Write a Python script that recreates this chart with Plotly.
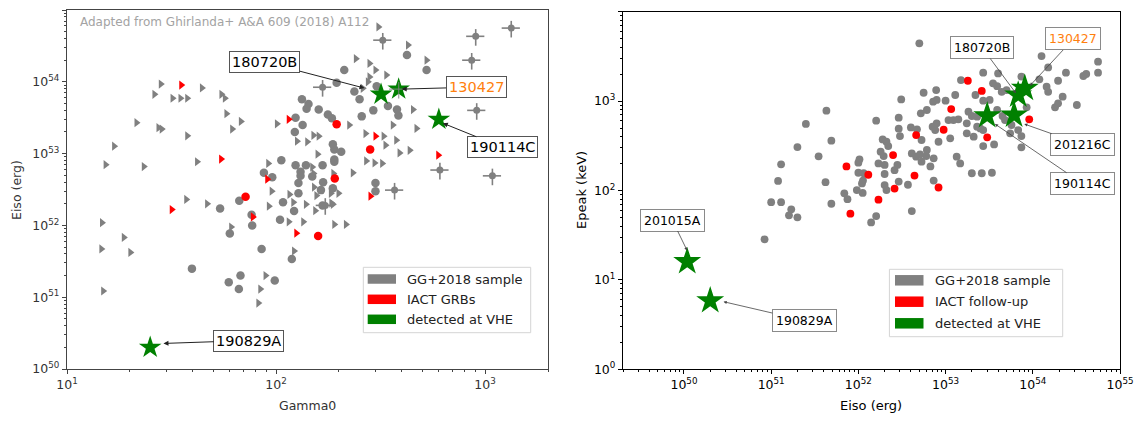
import numpy as np
import plotly.graph_objects as go

# page body has an 8px margin: draw a 1137x413 figure so the page is 1145x421
OFF = 8
FW, FH = 1145 - OFF, 421 - OFF
FONT = "DejaVu Sans"
GRAY, RED, GREEN, ORANGE = "#808080", "#ff0000", "#008000", "#ff7f0e"


def X(px):
    return (px - OFF) / FW


def Y(py):
    return 1 - (py - OFF) / FH


# ---------------- LEFT PANEL DATA (Gamma0, Eiso [erg]) ----------------
# GG+2018 sample, measured Gamma0 (circles)
gc_gamma = [423, 525, 212, 195, 237, 251, 303, 343, 379, 385, 292, 257,
            133, 143, 140, 160, 177, 185, 134, 124, 123, 187,
            190, 205, 167, 190, 190, 139, 131, 149, 168, 187,
            106, 124, 131, 87.5, 95.9, 299, 299, 164, 167, 128,
            108, 128, 122, 104.5, 54, 66.7, 76.4, 76.9, 60.1, 85.3,
            119, 39.6, 59.4, 67.6, 66.4, 98.6]
gc_eiso = [2.36e54, 1.46e54, 1.46e54, 9.7e53, 7.3e53, 5.7e53, 8.7e53, 4.6e53, 4.1e53, 3.4e53, 4.0e53, 3.3e53,
           5.7e53, 4.9e53, 4.2e53, 4.1e53, 3.5e53, 3.1e53, 2.5e53, 3.15e53, 2.0e53, 1.35e53,
           1.14e53, 1.06e53, 6.9e52, 7.7e52, 8.3e52, 6.9e52, 5.6e52, 4.8e52, 4.0e52, 3.3e52,
           8.1e52, 6.9e52, 4.9e52, 5.4e52, 4.7e52, 3.9e52, 3.0e52, 3.1e52, 1.9e52, 3.9e52,
           2.1e52, 2.8e52, 1.59e52, 1.2e52, 1.72e52, 2.2e52, 1.41e52, 1.0e52, 7.7e51, 4.7e51,
           3.4e51, 2.5e51, 1.61e51, 2.0e51, 1.3e51, 1.71e51]

# GG+2018 sample, lower limits on Gamma0 (right triangles)
gt_gamma = [28.1, 26.2, 32.0, 34.9, 37.6, 44.2, 54.8, 56.9, 21.5, 27.4, 28.4, 37.6, 57.9, 67.9, 61.7,
            16.8, 15.3, 23.3, 41.9, 101, 91.8, 126,
            14.7, 18.7, 14.6, 20.1, 14.9, 37.2, 46.8, 61.0, 92.4, 95.3, 116, 121, 139, 115, 135,
            122, 89.1, 84.1, 82.3,
            190, 216, 156, 183, 199, 154, 187,
            309, 428, 525, 241, 280, 299, 337, 280, 275, 260, 452, 362, 470, 268, 376, 334, 436,
            390, 270, 296, 322, 233, 149, 160, 158,
            141, 151, 188, 151, 152, 184, 224, 327]
gt_eiso = [9.3e53, 6.7e53, 5.9e53, 5.9e53, 5.9e53, 8.2e53, 6.7e53, 5.9e53, 2.7e53, 2.3e53, 2.2e53, 1.77e53,
           3.6e53, 2.8e53, 2.2e53, 1.27e53, 7.0e52, 6.6e52, 7.7e52, 2.6e53, 7.3e52, 1.49e53,
           1.09e52, 6.8e51, 4.7e51, 4.2e51, 1.22e51, 2.3e52, 2.0e52, 9.5e51, 1.85e52, 3.0e52, 2.7e52,
           2.1e52, 1.97e52, 1.12e52, 1.12e52, 4.4e51, 2.0e51, 1.3e51, 8.3e50,
           1.03e52, 1.03e52, 2.6e52, 2.8e52, 2.8e52, 1.6e52, 1.97e52,
           5.8e54, 3.25e54, 2.0e54, 2.1e54, 1.8e54, 1.46e54, 1.24e54, 1.17e54, 1.0e54, 8.1e53, 4.1e53,
           2.5e53, 2.24e53, 1.9e53, 1.54e53, 1.31e53, 1.11e53, 1.02e53, 7.9e52, 7.4e52, 7.3e52, 5.4e52,
           6.5e52, 1.75e53, 9.8e52,
           1.46e53, 1.8e53, 5.3e52, 5.3e52, 3.4e52, 2.05e52, 2.5e53, 1.75e53]

# GG+2018 sample with error bars
eb_gamma = [324, 902, 1334, 863, 912, 608, 1084, 167, 369, 172]
eb_eiso = [3.8e54, 4.3e54, 5.6e54, 2.0e54, 4.0e53, 5.9e52, 4.9e52, 8.4e53, 3.1e52, 1.9e52]

# IACT GRBs
rt_gamma = [35.2, 54.6, 115, 90.8, 31.7, 77.5, 125, 283, 299, 597]
rt_eiso = [9.0e53, 8.4e52, 3.0e53, 4.4e52, 1.66e52, 1.31e52, 7.8e51, 2.55e52, 1.75e53, 9.5e52]
rc_gamma = [71.5, 159, 195, 282, 191]
rc_eiso = [2.5e52, 7.1e51, 2.57e53, 1.14e53, 4.5e52]

# detected at VHE
vhe_left_names = ["180720B", "130427", "190114C", "190829A"]
vhe_left_gamma = [318, 386, 601, 25]
vhe_left_eiso = [6.7e53, 7.9e53, 3.0e53, 2.0e50]

# ---------------- RIGHT PANEL DATA (Eiso [erg], Epeak [keV]) ----------------
gg_eiso = [5.0e52, 5.6e52, 7.8e52, 3.1e52, 7.2e52, 7.9e52, 6.1e52, 5.2e52, 4.3e51, 2.5e51,
           1.6e52, 2.9e52, 2.9e52, 3.0e52, 4.0e52, 4.7e52, 5.3e52, 7.1e52, 4.9e51, 2.0e51,
           3.5e51, 1.3e51, 1.2e51, 4.2e51, 1.0e51, 1.3e51, 1.7e51, 1.6e51, 2.0e51, 8.4e50,
           4.9e51, 1.03e52, 1.0e52, 1.0e52, 1.15e52, 1.13e52, 1.1e52, 6.9e51, 7.5e51, 9.6e51,
           1.12e52, 1.9e52, 2.1e52, 2.2e52, 1.8e52, 1.95e52, 1.7e52, 2.0e52, 2.0e52, 2.8e52,
           2.6e52, 2.0e52, 2.1e52, 2.9e52, 3.7e52, 4.1e52, 1.6e52, 1.4e52, 4.1e52, 4.6e52,
           5.1e52, 6.1e52, 5.3e52, 6.0e52, 7.3e52, 6.7e52, 7.3e52,
           1.26e54, 1.5e54, 2.4e54, 5.6e54, 5.6e54, 4.1e54, 3.8e54, 2.7e53, 4.0e53, 7.4e53,
           1.19e54, 1.95e54, 1.5e53, 1.29e53, 3.5e53, 3.9e53, 4.4e53, 5.0e53, 1.44e54, 1.5e54,
           2.2e54, 1.95e54, 1.8e54, 3.2e54, 1.0e53, 2.7e53, 3.2e53, 2.2e53, 3.9e53, 4.5e53,
           4.8e53, 8.5e53, 1.83e53, 2.0e53, 2.3e53, 1.08e53, 1.23e53, 1.4e53, 7.9e52, 7.6e52,
           1.75e53, 2.3e53, 2.5e53, 2.7e53, 1.13e53, 8.3e52, 1.75e53, 2.1e53, 2.7e53, 3.6e53,
           5.7e53, 5.5e53, 6.8e53, 7.4e53, 7.4e53, 1.34e53, 1.47e53, 2.0e53, 2.6e53, 3.4e53]
gg_epeak = [4430, 1240, 1330, 1045, 985, 1030, 795, 729, 781, 555,
            604, 652, 491, 406, 508, 483, 367, 517, 361, 306,
            241, 196, 128, 124, 74, 74, 61.5, 52.7, 50.1, 28.4,
            71.1, 223, 205, 158, 156, 129, 120, 93, 80, 101,
            94, 373, 351, 314, 272, 243, 201, 193, 153, 193,
            169, 115, 101, 126, 116, 58.9, 51.8, 44.0, 260, 239,
            254, 284, 210, 243, 229, 186, 129,
            3190, 2380, 2080, 2760, 2080, 2010, 1910, 2080, 2040, 1880,
            1750, 1690, 1720, 1170, 1580, 1470, 1270, 1330, 1450, 1270,
            1120, 944, 851, 904, 1010, 1010, 1030, 1170, 795, 681,
            614, 851, 762, 681, 670, 614, 614, 625, 564, 474,
            564, 517, 495, 474, 383, 351, 436, 400, 314, 328,
            540, 436, 474, 406, 304, 239, 201, 156, 156, 158]

iact_eiso = [4.6e52, 2.5e52, 7.3e51, 1.3e52, 4.4e52, 2.6e52, 1.7e52, 8.1e51, 8.3e52,
             1.8e53, 2.6e53, 1.16e53, 9.5e52, 3.0e53, 9.1e53]
iact_epeak = [417, 249, 186, 150, 147, 105, 79, 55, 108,
              1690, 1300, 815, 478, 393, 625]

vhe_right_names = ["190114C", "201216C", "180720B", "130427", "201015A", "190829A"]
vhe_right_eiso = [3.0e53, 6.1e53, 6.8e53, 8.1e53, 1.09e50, 2.0e50]
vhe_right_epeak = [687, 699, 1170, 1390, 16, 5.85]

# ---------------- label placement (log10 units: label centre, arrow tip) ----------------
left_labels = {
    "180720B": ((1.947, 54.275), (2.423, 53.912), "black"),
    "130427": ((2.957, 53.926), (2.601, 53.898), ORANGE),
    "190114C": ((3.082, 53.089), (2.798, 53.424), "black"),
    "190829A": ((1.870, 50.397), (1.4615, 50.356), "black"),
}
right_labels = {
    "180720B": ((53.418, 3.600), (53.807, 3.087), "black"),
    "130427": ((54.465, 3.695), (53.967, 3.172), ORANGE),
    "201216C": ((54.573, 2.512), (53.902, 2.744), "black"),
    "190114C": ((54.573, 2.076), (53.566, 2.744), "black"),
    "201015A": ((49.866, 1.670), (50.037, 1.327), "black"),
    "190829A": ((51.381, 0.546), (50.454, 0.756), "black"),
}

fig = go.Figure()


def sc(x, y, xa, ya, **m):
    return go.Scatter(x=x, y=y, mode="markers", xaxis=xa, yaxis=ya,
                      showlegend=False, hoverinfo="skip", marker=m)


# left panel traces
fig.add_trace(sc(gt_gamma, gt_eiso, "x", "y", symbol="triangle-right", size=8, color=GRAY))
fig.add_trace(sc(gc_gamma, gc_eiso, "x", "y", symbol="circle", size=8.5, color=GRAY))
fig.add_trace(go.Scatter(x=eb_gamma, y=eb_eiso, mode="markers", xaxis="x", yaxis="y",
                         showlegend=False, hoverinfo="skip",
                         marker=dict(size=7, color=GRAY),
                         error_x=dict(type="percent", value=10, color=GRAY, thickness=1.6, width=0),
                         error_y=dict(type="percent", value=26, color=GRAY, thickness=1.6, width=0)))
fig.add_trace(sc(rt_gamma, rt_eiso, "x", "y", symbol="triangle-right", size=8, color=RED))
fig.add_trace(sc(rc_gamma, rc_eiso, "x", "y", symbol="circle", size=8.5, color=RED))
fig.add_trace(sc(vhe_left_gamma, vhe_left_eiso, "x", "y", symbol="star", size=17, color=GREEN,
                 line=dict(width=0)))
i130 = vhe_left_names.index("130427")
fig.add_trace(go.Scatter(x=[vhe_left_gamma[i130]], y=[vhe_left_eiso[i130]], mode="markers",
                         xaxis="x", yaxis="y", showlegend=False, hoverinfo="skip",
                         marker=dict(size=0.1, color="rgba(128,128,128,0.6)"),
                         error_x=dict(type="percent", value=10, color="rgba(128,128,128,0.7)", thickness=1.4, width=0),
                         error_y=dict(type="percent", value=26, color="rgba(128,128,128,0.7)", thickness=1.4, width=0)))

# right panel traces
fig.add_trace(sc(gg_eiso, gg_epeak, "x2", "y2", symbol="circle", size=7.8, color=GRAY))
fig.add_trace(sc(iact_eiso, iact_epeak, "x2", "y2", symbol="circle", size=7.8, color=RED))
fig.add_trace(sc(vhe_right_eiso, vhe_right_epeak, "x2", "y2", symbol="star", size=21, color=GREEN,
                 line=dict(width=0)))


def minor_vals(lo, hi):
    return [m * 10.0 ** e for e in range(lo, hi) for m in range(2, 10)]


def sup(e):
    return "10<sup>%d</sup>" % e


def axis(dom, rng, anchor, majors, minors, col, tcol):
    return dict(type="log", domain=dom, range=rng, anchor=anchor, automargin=False,
                showline=True, linecolor=col, linewidth=1.2, mirror=True,
                ticks="outside", ticklen=4, tickwidth=1, tickcolor=col,
                tickvals=[10.0 ** e for e in majors], ticktext=[sup(e) for e in majors],
                tickfont=dict(family=FONT, size=12.5, color=tcol),
                showgrid=False, zeroline=False,
                minor=dict(ticks="outside", ticklen=2, tickwidth=0.8, tickcolor=col,
                           tickvals=minors, showgrid=False))


LC = "#444444"
fig.update_layout(
    template="none",
    width=FW, height=FH, margin=dict(l=0, r=0, t=0, b=0, autoexpand=False),
    paper_bgcolor="white", plot_bgcolor="white", showlegend=False,
    xaxis=axis([X(67), X(548)], [1, np.log10(2000)], "y", [1, 2, 3], minor_vals(1, 4), LC, "#333333"),
    yaxis=axis([Y(369), Y(10)], [50, 55], "x", [50, 51, 52, 53, 54, 55], minor_vals(50, 55), LC, "#333333"),
    xaxis2=axis([X(623), X(1120)], [np.log10(2e49), 55], "y2", [50, 51, 52, 53, 54, 55], minor_vals(49, 55), "black", "black"),
    yaxis2=axis([Y(369.3), Y(11.7)], [0, 4], "x2", [0, 1, 2, 3, 4], minor_vals(0, 4), "black", "black"),
)

ann = []
shapes = []


def paper_text(x, y, text, size=13, color="black", xanchor="center", angle=0):
    ann.append(dict(xref="paper", yref="paper", x=X(x), y=Y(y), text=text, showarrow=False,
                    xanchor=xanchor, yanchor="middle", textangle=angle,
                    font=dict(family=FONT, size=size, color=color)))


# credits and axis titles
paper_text(78, 22, "Adapted from Ghirlanda+ A&A 609 (2018) A112", size=12, color="#a3a3a3", xanchor="left")
paper_text(307, 405, "Gamma0", size=12.5, color="#333333")
paper_text(17, 190, "Eiso (erg)", size=12.5, color="#333333", angle=-90)
paper_text(871, 405, "Eiso (erg)", size=13)
paper_text(582, 190, "Epeak (keV)", size=13, angle=-90)

# labelled arrows
for name, ((lx, ly), (tx, ty), col) in left_labels.items():
    ann.append(dict(xref="x", yref="y", axref="x", ayref="y", x=tx, y=ty, ax=lx, ay=ly,
                    text=name, showarrow=True, arrowhead=2, arrowsize=1, arrowwidth=1,
                    arrowcolor="#222222", bgcolor="white", bordercolor="#555555", borderwidth=1,
                    borderpad=2, font=dict(family=FONT, size=14.5, color=col)))
for name, ((lx, ly), (tx, ty), col) in right_labels.items():
    ann.append(dict(xref="x2", yref="y2", axref="x2", ayref="y2", x=tx, y=ty, ax=lx, ay=ly,
                    text=name, showarrow=True, arrowhead=2, arrowsize=0.8, arrowwidth=0.8,
                    arrowcolor="#444444", bgcolor="white", bordercolor="#8a8a8a", borderwidth=1,
                    borderpad=3, font=dict(family=FONT, size=12.5, color=col)))


# hand-drawn legends (patch style)
def legend(box, rows, px0, px1, tx, ph, labels):
    x0, y0, x1, y1 = box
    shapes.append(dict(type="rect", xref="paper", yref="paper", x0=X(x0), x1=X(x1),
                       y0=Y(y1), y1=Y(y0), line=dict(color="#d4d4d4", width=1),
                       fillcolor="rgba(255,255,255,0.85)"))
    for (ry, (lab, col)) in zip(rows, labels):
        shapes.append(dict(type="rect", xref="paper", yref="paper", x0=X(px0), x1=X(px1),
                           y0=Y(ry + ph / 2), y1=Y(ry - ph / 2),
                           line=dict(width=0), fillcolor=col))
        paper_text(tx, ry, lab, size=13, color="#222222", xanchor="left")


legend((363.3, 267.3, 530.7, 332.7), [279, 299.3, 319.3], 367.7, 396, 405, 9.5,
       [("GG+2018 sample", GRAY), ("IACT GRBs", RED), ("detected at VHE", GREEN)])
legend((889.4, 269.3, 1062.7, 336.7), [280.3, 301.7, 323.3], 895, 923.5, 933, 10.5,
       [("GG+2018 sample", GRAY), ("IACT follow-up", RED), ("detected at VHE", GREEN)])

fig.update_layout(annotations=ann, shapes=shapes)
fig.write_html("out.html")
